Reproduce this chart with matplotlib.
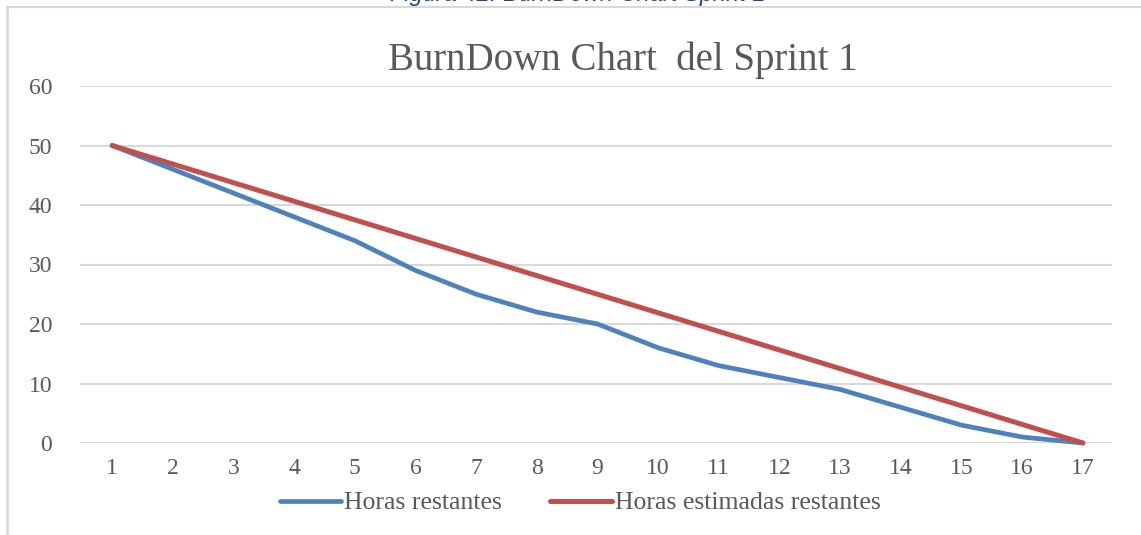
import matplotlib.pyplot as plt
from matplotlib.lines import Line2D

dias = list(range(1, 18))
horas_restantes = [50, 46, 42, 38, 34, 29, 25, 22, 20, 16, 13, 11, 9, 6, 3, 1, 0]
horas_estimadas = [50, 46.875, 43.75, 40.625, 37.5, 34.375, 31.25, 28.125, 25,
                   21.875, 18.75, 15.625, 12.5, 9.375, 6.25, 3.125, 0]
y_ticks = [0, 10, 20, 30, 40, 50, 60]

AZUL = "#4F81BD"
ROJO = "#C0504D"
GRIS_TXT = "#595959"
GRIS_GRID = "#D9D9D9"
SERIF = ["Liberation Serif", "DejaVu Serif"]

fig = plt.figure(figsize=(11.41, 5.35), dpi=100)
ax = fig.add_axes([80 / 1141, 1 - 443 / 535, (1112 - 80) / 1141, (443 - 86) / 535])

ax.plot(dias, horas_restantes, color=AZUL, lw=3.4, solid_capstyle="round",
        solid_joinstyle="round", clip_on=False, zorder=3, label="Horas restantes")
ax.plot(dias, horas_estimadas, color=ROJO, lw=3.6, solid_capstyle="round",
        clip_on=False, zorder=4, label="Horas estimadas restantes")

ax.set_xlim(0.47, 17.48)
ax.set_ylim(0, 60)
ax.set_xticks(dias)
ax.set_yticks(y_ticks)
ax.grid(axis="y", color=GRIS_GRID, lw=1.5)
ax.set_axisbelow(True)
for s in ax.spines.values():
    s.set_visible(False)
ax.tick_params(length=0, labelcolor=GRIS_TXT, labelsize=17)
ax.tick_params(axis="y", pad=20)
ax.tick_params(axis="x", pad=11)
for lab in ax.get_xticklabels() + ax.get_yticklabels():
    lab.set_family(SERIF)

fig.text(623 / 1141, 1 - 60 / 535, "BurnDown Chart  del Sprint 1", ha="center",
         va="center", fontsize=28, color=GRIS_TXT, family=SERIF)

leg = fig.legend(loc="center", bbox_to_anchor=(580 / 1141, 1 - 503 / 535), ncol=2,
                 frameon=False, handlelength=2.4, handletextpad=0.1, columnspacing=1.9,
                 prop={"family": SERIF, "size": 18.5})
for t in leg.get_texts():
    t.set_color(GRIS_TXT)

# cropped caption and frame of the page
fig.text(578 / 1141, 1 - 0.5 / 535, "Figura 42: BurnDown Chart Sprint 1", ha="center",
         va="baseline", fontsize=17, style="italic", color="#1F497D",
         family=["Liberation Sans", "DejaVu Sans"])
fig.add_artist(Line2D([7 / 1141, 1], [1 - 7 / 535, 1 - 7 / 535],
                      transform=fig.transFigure, color=GRIS_GRID, lw=1.5))
fig.add_artist(Line2D([7 / 1141, 7 / 1141], [0, 1 - 7 / 535],
                      transform=fig.transFigure, color=GRIS_GRID, lw=2))

fig.savefig("out.png", dpi=100)
